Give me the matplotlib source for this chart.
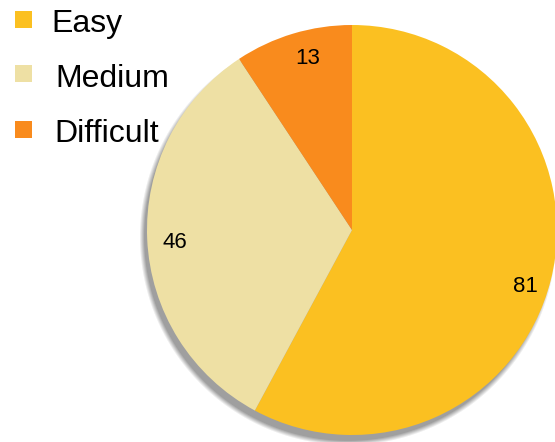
import numpy as np
import matplotlib
matplotlib.use("Agg")
import matplotlib.pyplot as plt
from matplotlib.patches import Rectangle

plt.rcParams['font.family'] = ['Liberation Sans', 'DejaVu Sans']

categories = ["Easy", "Medium", "Difficult"]
counts = [81, 46, 13]
colors = ["#FBC021", "#EEE0A4", "#F98B1D"]

W, H = 555, 442
fig = plt.figure(figsize=(W / 100, H / 100), dpi=100)
ax = fig.add_axes([0, 0, 1, 1])

# pie geometry in pixel units (y measured upward)
cx, cy, r = 352, H - 230, 205

# soft drop shadow under the pie
yy, xx = np.mgrid[0:H, 0:W]
sx, sy = cx - 4, cy - 7
d = np.hypot(xx + 0.5 - sx, (H - yy - 0.5) - sy)
shadow = np.clip((r + 1 - d) / 5 + 0.5, 0, 1) * 0.6
rgba = np.zeros((H, W, 4))
rgba[..., :3] = 0.38
rgba[..., 3] = shadow
ax.imshow(rgba, extent=(0, W, 0, H), origin="upper", zorder=0, interpolation="bilinear")

wedges, _ = ax.pie(counts, colors=colors, startangle=90, counterclock=False,
                   center=(cx, cy), radius=r, wedgeprops=dict(linewidth=0))
for w in wedges:
    w.set_zorder(2)

# value labels inside the slices
label_xy = [(525, 287), (175, 243), (308, 58)]
for val, (lx, ly) in zip(counts, label_xy):
    ax.text(lx, H - ly, str(val), fontsize=16, ha="center", va="center",
            color="black", zorder=3)

# legend drawn as colour squares with names
square_y = [19.5, 73.5, 129]
text_base = [32, 87, 142]
text_x = [51, 55, 54]
for name, col, sqy, by, tx in zip(categories, colors, square_y, text_base, text_x):
    ax.add_patch(Rectangle((15, H - sqy - 8.5), 17, 17, facecolor=col,
                           edgecolor="none", zorder=3))
    ax.text(tx, H - by, name, fontsize=23, ha="left", va="baseline",
            color="black", zorder=3)

ax.set_xlim(0, W)
ax.set_ylim(0, H)
ax.set_aspect("equal")
ax.axis("off")

fig.savefig("out.png", dpi=100)
